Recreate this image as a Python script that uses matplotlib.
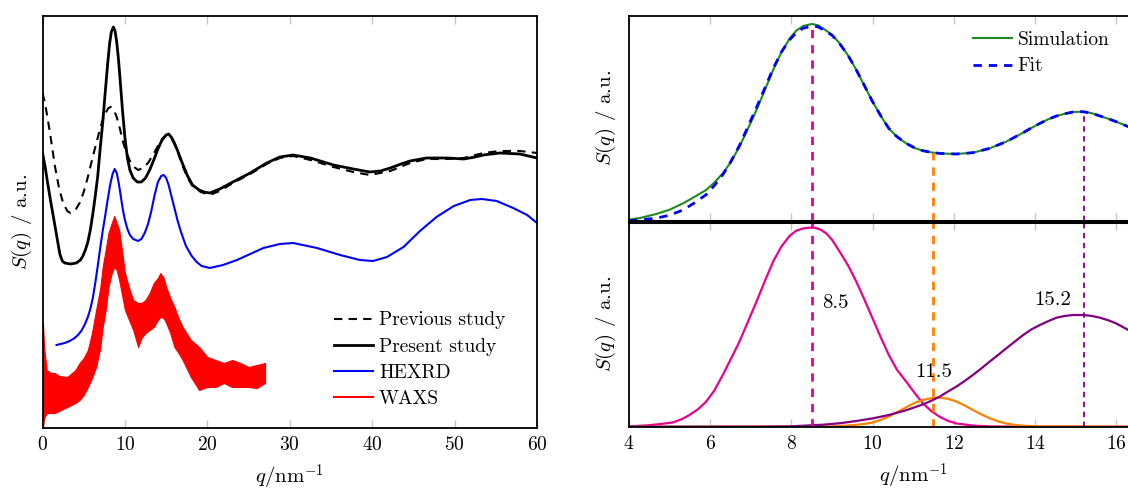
import numpy as np
import matplotlib
matplotlib.use("Agg")
import matplotlib.pyplot as plt

plt.rcParams['font.family'] = 'cmr10'
plt.rcParams['mathtext.fontset'] = 'cm'
plt.rcParams['axes.formatter.use_mathtext'] = True
plt.rcParams['font.size'] = 14

# ---- left panel: S(q) over a wide q range (arbitrary units) ----
q_present = [0, 0.3, 0.6, 1.0, 1.3, 1.7, 2.1, 2.4, 2.7, 3.4, 4.1, 4.6, 4.9, 5.2, 5.5, 5.8, 6.1,
             6.4, 6.7, 7.0, 7.3, 7.6, 7.9, 8.15, 8.35, 8.6, 8.8, 9.0, 9.2, 9.4, 9.7, 10.0, 10.3,
             10.6, 11.0, 11.5, 12.0, 12.5, 13.0, 13.5, 14.0, 14.5, 15.0, 15.3, 15.7, 16.0, 16.4,
             17.0, 17.6, 18.2, 19.0, 19.6, 20.3, 21.5, 23.1, 25.2, 27.2, 28.8, 30.4, 32.5, 35.3,
             37.7, 39.7, 41.0, 42.2, 43.5, 44.6, 46.6, 49.1, 51.1, 52.5, 53.5, 55.5, 57.9, 60]
s_present = [275, 262, 246, 226, 212, 193, 174, 167, 165, 164, 165, 168, 172, 178, 186, 198, 214,
             232, 252, 280, 305, 335, 364, 385, 396, 401, 397, 386, 370, 350, 318, 290, 270,
             258, 250, 246, 246, 250, 258, 268, 279, 288, 293, 294, 290, 285, 277,
             264, 252, 243, 238, 236, 235, 239, 246, 255, 265, 271, 273, 270, 263,
             259, 256, 257, 260, 264, 267, 270, 270, 269, 271, 273, 275, 274, 270]

q_previous = [0, 0.3, 0.67, 1.0, 1.5, 2.0, 2.5, 3.0, 3.4, 4.0, 4.5, 5.0, 5.5, 6.0, 6.5, 7.0,
              7.5, 8.0, 8.3, 8.7, 9.0, 9.4, 9.8, 10.2, 10.6, 11.1, 11.6, 12.2, 12.8, 13.4,
              14.0, 14.5, 15.0, 15.5, 16.0, 16.4, 17.0, 17.6, 18.2, 19.2, 20.3, 21.5, 23.1,
              25.2, 27.2, 28.8, 30.4, 32.5, 35.3, 37.7, 39.7, 42.2, 44.6, 46.6, 49.1, 51.1,
              53.5, 55.5, 57.9, 60]
s_previous = [335, 325, 307, 290, 262, 240, 225, 217, 215, 218, 225, 236, 251, 268, 284, 300,
              313, 320, 321, 317, 311, 299, 285, 275, 267, 261, 258, 260, 265, 273,
              282, 289, 293, 292, 284, 276, 262, 250, 242, 236, 233, 237, 245,
              254, 264, 270, 272, 268, 261, 256, 253, 257, 265, 269, 269, 270,
              275, 277, 277, 275]

q_hexrd = [1.7, 2.2, 2.7, 3.3, 3.9, 4.3, 4.7, 5.1, 5.5, 5.8, 6.1, 6.4, 6.7, 7.0, 7.3, 7.6, 7.9,
           8.2, 8.5, 8.75, 9.0, 9.2, 9.4, 9.6, 9.8, 10.0, 10.3, 10.6, 11.0, 11.6, 12.0, 12.4,
           12.8, 13.2, 13.6, 14.0, 14.4, 14.7, 15.0, 15.3, 15.6, 16.0, 16.4, 16.8, 17.4, 18.1,
           18.7, 19.3, 20.3, 21.9, 23.6, 25.2, 26.8, 28.8, 30.4, 33.3, 36.1, 38.5, 40.1, 41.8,
           43.8, 45.8, 47.8, 49.9, 51.9, 53.3, 55.1, 57.1, 58.8, 60]
s_hexrd = [83, 84, 85, 87, 90, 93, 97, 103, 111, 119, 130, 145, 162, 180, 197, 212, 228,
           243, 254, 259, 255, 247, 237, 226, 216, 208, 199, 193, 189, 187, 189, 195,
           204, 217, 233, 246, 252, 253, 250, 243, 233, 220, 207, 196, 182, 172,
           166, 162, 160, 163, 168, 174, 180, 184, 185, 180, 173, 168, 167, 171,
           181, 197, 211, 222, 228, 229, 227, 220, 213, 205]

# WAXS is very noisy: upper / lower envelope
q_waxs = [0.05, 0.2, 0.5, 1.0, 1.5, 2.0, 3.0, 4.0, 4.5, 5.0, 5.5, 6.0, 6.5, 7.0, 7.3, 7.7, 8.0,
          8.4, 8.7, 9.0, 9.3, 9.6, 10.0, 10.5, 11.0, 11.6, 12.0, 12.5, 13.0, 13.5, 14.0, 14.3,
          14.7, 15.0, 15.5, 16.0, 16.5, 17.0, 18.0, 19.0, 20.0, 21.0, 22.0, 23.0, 24.0, 25.0,
          26.0, 27.0]
waxs_hi = [105, 80, 58, 55, 55, 52, 51, 58, 65, 70, 78, 95, 118, 140, 161, 180, 195,
           205, 212, 205, 198, 180, 155, 140, 128, 125, 125, 128, 135, 145, 150, 155,
           150, 141, 130, 121, 110, 101, 88, 81, 71, 68, 65, 68, 65, 61,
           63, 65]
waxs_lo = [0, 10, 15, 15, 15, 17, 21, 25, 28, 33, 41, 50, 61, 80, 101, 120, 141,
           155, 161, 158, 148, 135, 118, 108, 98, 81, 90, 95, 98, 101, 108, 111,
           110, 105, 95, 81, 75, 68, 51, 38, 41, 41, 45, 41, 41, 41,
           40, 45]

# ---- right panels: simulation, fit and the three peaks ----
q_sim = [4.0, 4.3, 4.67, 5.0, 5.33, 5.6, 5.9, 6.1, 6.31, 6.5, 6.72, 6.93, 7.14, 7.35, 7.55,
         7.75, 7.96, 8.12, 8.29, 8.51, 8.65, 8.78, 9.0, 9.19, 9.4, 9.6, 9.8, 10.0, 10.2, 10.4,
         10.6, 10.83, 11.05, 11.24, 11.45, 11.65, 12.06, 12.47, 12.88, 13.29, 13.5, 13.71,
         13.9, 14.12, 14.33, 14.53, 14.74, 14.94, 15.18, 15.4, 15.6, 15.8, 16.0, 16.3, 16.6]
s_sim = [1, 3, 6.7, 11, 17.3, 23.5, 30.7, 38, 47.3, 58, 74, 92, 110.7, 131, 150.7,
         168, 182.3, 190, 194.7, 196.7, 195.5, 192.3, 186, 177.3, 165, 150.7, 135, 119, 105, 92.3,
         84, 77.3, 72.5, 70, 68.3, 67.3, 66.7, 68, 72.3, 79, 83.5, 88,
         92.5, 97.3, 101.5, 104.7, 107, 108.7, 109, 107.5, 104.7, 102, 99, 94, 89]
s_fit = [0, 1, 2.5, 5.5, 10.7, 17.5, 26, 35, 46, 58.5, 75, 94, 113, 133, 152,
         168.5, 181, 188, 192.5, 194.5, 194, 191, 185.5, 177, 165, 150.7, 135, 119, 105, 92.3,
         84, 77.3, 72.5, 70, 68.3, 67.3, 66.7, 68, 72.3, 79, 83.5, 88,
         92.5, 97.3, 101.5, 104.7, 107, 108.7, 109, 107.5, 104.7, 102, 99, 94, 89]

peak_pos = [8.5, 11.5, 15.2]
peak_colors = ['#ec008c', '#ff8000', '#800080']

q_p1 = [4.0, 4.5, 4.8, 5.08, 5.3, 5.49, 5.7, 5.9, 6.1, 6.31, 6.5, 6.72, 6.93, 7.14, 7.35, 7.55,
        7.75, 7.96, 8.12, 8.29, 8.53, 8.7, 8.86, 9.0, 9.19, 9.4, 9.6, 9.8, 10.0, 10.2, 10.4,
        10.6, 10.83, 11.05, 11.24, 11.45, 11.65, 11.85, 12.06, 12.5, 12.88, 14.0, 16.6]
s_p1 = [0.3, 1.5, 2.8, 4.3, 7.5, 11.7, 17.5, 25, 36, 51.7, 67, 85, 105, 125, 146, 165,
        180, 191, 196, 198.3, 199.4, 197.5, 193.3, 187, 175, 161, 145, 127, 108.3, 89.5, 71.7,
        57, 45, 33, 23.3, 15.5, 10, 6, 3.3, 1, 0.3, 0, 0]
q_p2 = [4.0, 9.0, 9.5, 9.8, 10.0, 10.2, 10.4, 10.6, 10.83, 11.05, 11.24, 11.45, 11.65, 11.85,
        12.06, 12.27, 12.47, 12.68, 12.88, 13.1, 13.29, 13.5, 13.7, 14.1, 16.6]
s_p2 = [0, 0.3, 1.5, 2.8, 4.2, 6.8, 10.2, 14.5, 19.5, 24, 26.8, 28.5, 29, 28,
        25.3, 21.2, 16.7, 12.3, 8.5, 5.3, 3.2, 1.8, 1, 0.3, 0]
q_p3 = [4.0, 7.0, 7.96, 8.4, 8.78, 9.2, 9.6, 10.0, 10.4, 10.83, 11.24, 11.45, 11.65, 11.85,
        12.06, 12.27, 12.47, 12.68, 12.88, 13.1, 13.29, 13.5, 13.71, 13.9, 14.12, 14.33, 14.53,
        14.74, 14.94, 15.18, 15.4, 15.6, 15.8, 16.0, 16.3, 16.6]
s_p3 = [0, 0, 0.3, 1.2, 2, 3.5, 5.7, 8.3, 11.7, 16.5, 22.3, 26, 30, 35,
        40, 45.8, 51.7, 58.3, 65, 72, 78.3, 85, 91.7, 97, 101.7, 105.6, 109,
        110.8, 111.7, 111.7, 110.8, 109, 106.5, 103.3, 96.7, 90]

label_offsets = [(0.25, 124, 'left'), (0.0, 55, 'center'), (-0.3, 127, 'right')]

tick_kw = dict(direction='in', top=True, bottom=True, left=False, right=False,
               color='#c4c4c4', width=1, length=6, labelsize=14, pad=6)
leg_kw = dict(loc='upper left', frameon=False, fontsize=14, borderpad=0, borderaxespad=0,
              handlelength=2.0, handletextpad=0.3, labelspacing=0.42)


def style(ax):
    for sp in ax.spines.values():
        sp.set_linewidth(1.3)
    ax.set_yticks([])
    ax.tick_params(axis='x', **tick_kw)


fig = plt.figure(figsize=(11.28, 4.92), dpi=100)

# left panel
ax1 = fig.add_axes([0.0377, 0.1301, 0.4384, 0.8374])
ax1.plot(q_previous, s_previous, color='black', lw=1.5, ls=(0, (4, 3)), label='Previous study')
ax1.plot(q_present, s_present, color='black', lw=2.0, label='Present study')
ax1.plot(q_hexrd, s_hexrd, color='blue', lw=1.5, label='HEXRD')
ax1.fill_between(q_waxs, waxs_lo, waxs_hi, color='red', lw=0.8)
ax1.plot([], [], color='red', lw=1.5, label='WAXS')
ax1.set_xlim(0, 60)
ax1.set_ylim(0, 412)
ax1.set_xticks(range(0, 61, 10))
style(ax1)
ax1.set_xlabel('$q/\\mathrm{nm}^{-1}$', fontsize=15, labelpad=6)
ax1.set_ylabel('$S(q)$ / a.u.', fontsize=15, labelpad=6)
ax1.legend(bbox_to_anchor=(0.59, 0.283), **leg_kw)

# right top panel
ax2 = fig.add_axes([0.5576, 0.5514, 0.5039, 0.4161])
ax2.plot(q_sim, s_sim, color='#1f8a1f', lw=1.5, label='Simulation')
ax2.plot(q_sim, s_fit, color='blue', lw=2.0, ls=(0, (3, 2.5)), label='Fit')
for pos, col in zip(peak_pos, peak_colors):
    top = np.interp(pos, q_sim, s_sim)
    lw = 1.3 if col == '#800080' else 2.0
    ax2.plot([pos, pos], [0, top], color=col, lw=lw, ls=(0, (3, 2.5)))
ax2.set_xlim(4, 18)
ax2.set_ylim(0, 204.7)
ax2.set_xticks(range(4, 17, 2))
style(ax2)
ax2.tick_params(axis='x', labelbottom=False)
ax2.spines['bottom'].set_linewidth(2.2)
ax2.set_ylabel('$S(q)$ / a.u.', fontsize=15, labelpad=8)
ax2.legend(bbox_to_anchor=(0.605, 0.925), **leg_kw)

# right bottom panel
ax3 = fig.add_axes([0.5576, 0.1327, 0.5039, 0.4167])
ax3.plot(q_p1, s_p1, color=peak_colors[0], lw=1.6)
ax3.plot(q_p2, s_p2, color=peak_colors[1], lw=1.6)
ax3.plot(q_p3, s_p3, color=peak_colors[2], lw=1.6)
for pos, col, (dx, ty, ha) in zip(peak_pos, peak_colors, label_offsets):
    lw = 1.3 if col == '#800080' else 2.0
    ax3.axvline(pos, color=col, lw=lw, ls=(0, (3, 2.5)))
    ax3.text(pos + dx, ty, f'{pos:.1f}', ha=ha, va='center', fontsize=15)
ax3.set_xlim(4, 18)
ax3.set_ylim(0, 205)
ax3.set_xticks(range(4, 17, 2))
style(ax3)
ax3.spines['top'].set_linewidth(2.2)
ax3.set_xlabel('$q/\\mathrm{nm}^{-1}$', fontsize=15, labelpad=6)
ax3.set_ylabel('$S(q)$ / a.u.', fontsize=15, labelpad=8)

fig.savefig('out.png', dpi=100)
